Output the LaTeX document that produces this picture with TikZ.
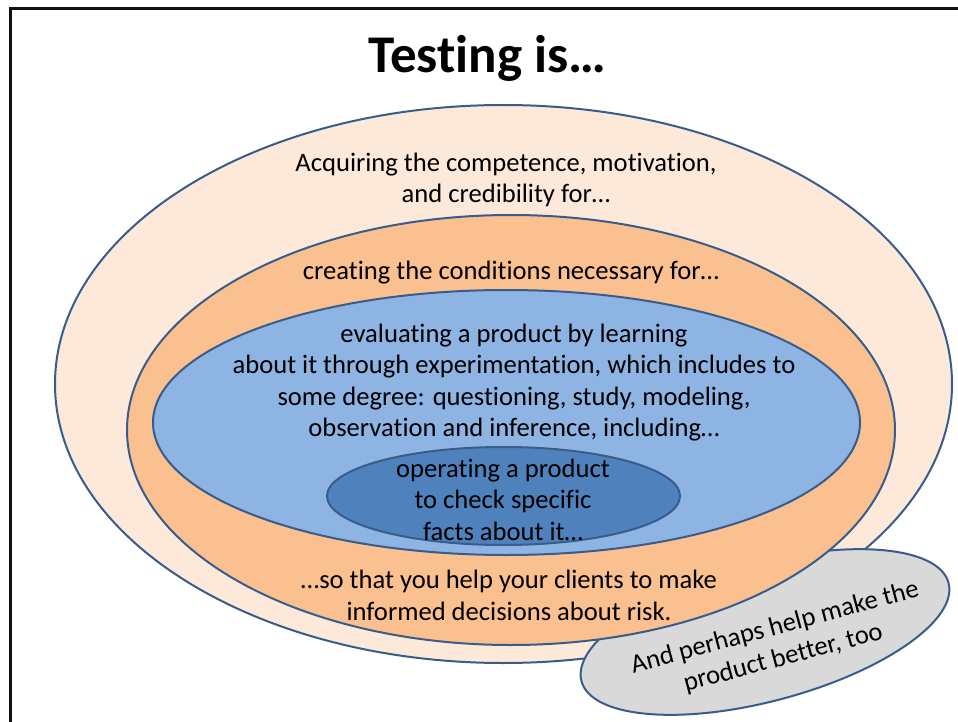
\documentclass[tikz,border=0pt]{standalone}
\usepackage{fontspec}
\setmainfont{Carlito}[Ligatures={NoCommon,NoRequired,NoContextual}]
\usetikzlibrary{shapes.geometric}
\definecolor{edgeblue}{HTML}{385D8A}
\definecolor{outerfill}{HTML}{FDE9D9}
\definecolor{orangefill}{HTML}{FAC090}
\definecolor{lightbluefill}{HTML}{8EB4E3}
\definecolor{darkbluefill}{HTML}{4F81BD}
\definecolor{grayfill}{HTML}{D9D9D9}
\definecolor{framecol}{HTML}{111111}
\begin{document}
\begin{tikzpicture}[x=1pt,y=-1pt,
  ring/.style={ellipse, draw=edgeblue, line width=2pt, inner sep=0pt},
  lbl/.style={align=center, font=\fontsize{26.6}{31.5}\selectfont, text=black, inner sep=0pt}]
\useasboundingbox (0,0) rectangle (958,722);
\fill[white] (0,0) rectangle (958,722);
% frame
\coordinate (fb) at (10.5,722);
\coordinate (fc) at (10.5,8.5);
\coordinate (fr) at (958,8.5);
\draw[framecol, line width=3pt] (fb) -- (fc) -- (fr);
% title
\node[font=\bfseries\fontsize{53}{60}\selectfont, anchor=base, inner sep=0pt] (title) at (487.5,73) {Testing is…};
% ellipses
\node[ring, fill=outerfill, minimum width=897pt, minimum height=558pt] (outer) at (503.5,384) {};
\node[ring, fill=grayfill, minimum width=380pt, minimum height=138pt, rotate=15] (extra) at (765,632) {};
\node[ring, fill=orangefill, minimum width=768pt, minimum height=430pt] (orange) at (511,430) {};
\node[ring, fill=lightbluefill, minimum width=707pt, minimum height=265pt] (light) at (506.5,422.5) {};
\node[ring, fill=darkbluefill, minimum width=353pt, minimum height=98pt] (dark) at (503.5,496) {};
% texts
\node[lbl] (t1) at (506,180) {Acquiring the competence, motivation,\\and credibility for…};
\node[lbl, anchor=base] (t2) at (511,279) {creating the conditions necessary for…};
\node[lbl] (t3) at (514,382.5) {evaluating a product by learning\\about it through experimentation, which includes to\\some degree: questioning, study, modeling,\\observation and inference, including…};
\node[lbl] (t4) at (503,499.5) {operating a product\\to check specific\\facts about it…};
\node[lbl] (t5) at (509,595.5) {…so that you help your clients to make\\informed decisions about risk.};
\node[lbl, rotate=15] (t6) at (779,643) {And perhaps help make the\\product better, too};
\end{tikzpicture}
\end{document}
